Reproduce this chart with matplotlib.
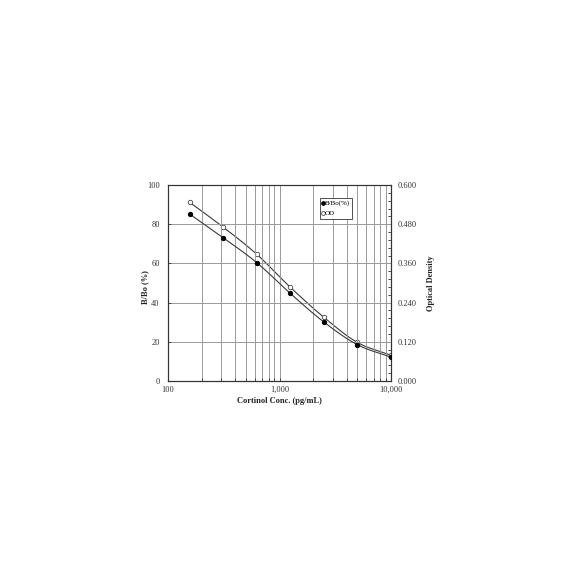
import matplotlib
matplotlib.use("Agg")
import matplotlib.pyplot as plt
import numpy as np
from matplotlib.ticker import FixedLocator, FuncFormatter, MultipleLocator

# Standard curve data
conc = [156.25, 312.5, 625, 1250, 2500, 5000, 10000]
b_b0 = [85.2, 73.1, 60.4, 44.7, 30.1, 18.5, 12.2]
od = [0.547, 0.471, 0.388, 0.287, 0.195, 0.118, 0.079]

x_ticks = [100, 1000, 10000]
x_tick_labels = ["100", "1,000", "10,000"]

plt.rcParams['font.family'] = ['Liberation Serif', 'DejaVu Serif']


def smooth(xs, ys, n=30):
    """Catmull-Rom curve through the points, in log-x space"""
    lx = np.log10(np.asarray(xs, dtype=float))
    y = np.asarray(ys, dtype=float)
    px = np.concatenate([[2 * lx[0] - lx[1]], lx, [2 * lx[-1] - lx[-2]]])
    py = np.concatenate([[2 * y[0] - y[1]], y, [2 * y[-1] - y[-2]]])
    out_x, out_y = [], []
    t = np.linspace(0, 1, n)
    for i in range(1, len(px) - 2):
        for arr, out in ((px, out_x), (py, out_y)):
            p0, p1, p2, p3 = arr[i - 1], arr[i], arr[i + 1], arr[i + 2]
            out.extend(0.5 * ((2 * p1) + (-p0 + p2) * t
                              + (2 * p0 - 5 * p1 + 4 * p2 - p3) * t ** 2
                              + (-p0 + 3 * p1 - 3 * p2 + p3) * t ** 3))
    return 10 ** np.array(out_x), np.array(out_y)


fig = plt.figure(figsize=(5.84, 5.84), dpi=100)
ax = fig.add_axes([0.2877, 0.3476, 0.3818, 0.3356])
ax2 = ax.twinx()

ax.set_xscale('log')
ax.set_xlim(100, 10000)
ax.set_ylim(0, 100)
ax2.set_ylim(0, 0.6)

# grid
ax.grid(True, which='major', axis='both', color='#9a9a9a', lw=0.7)
ax.grid(True, which='minor', axis='x', color='#9a9a9a', lw=0.7)

sx, sy = smooth(conc, b_b0)
ax.plot(sx, sy, color='#3a3a3a', lw=0.8, zorder=3)
ax.plot(conc, b_b0, 'o', color='black', ms=2.8, zorder=4, label='B/Bo(%)')

ox, oy = smooth(conc, od)
ax2.plot(ox, oy, color='#3a3a3a', lw=0.8, zorder=3)
ax2.plot(conc, od, 'o', mfc='white', mec='#444444', mew=0.6, ms=3.2, zorder=4,
         label='OD')

ax.xaxis.set_major_locator(FixedLocator(x_ticks))
ax.xaxis.set_major_formatter(FuncFormatter(lambda v, p: x_tick_labels[x_ticks.index(v)] if v in x_ticks else ""))
ax.xaxis.set_minor_formatter(FuncFormatter(lambda v, p: ""))
ax.yaxis.set_major_locator(MultipleLocator(20))
ax2.yaxis.set_major_locator(MultipleLocator(0.12))
ax2.yaxis.set_minor_locator(MultipleLocator(0.024))
ax2.yaxis.set_major_formatter(FuncFormatter(lambda v, p: "%.3f" % v))

for a in (ax, ax2):
    a.tick_params(which='both', direction='in', labelsize=6, colors='#333333',
                  length=2.5, width=0.6)
    for s in a.spines.values():
        s.set_color('#333333')
        s.set_linewidth(0.8)
ax.tick_params(axis='y', pad=6)
ax2.tick_params(axis='y', pad=5)
ax.tick_params(axis='x', which='minor', length=2)
ax.set_zorder(ax2.get_zorder() + 1)
ax.patch.set_visible(False)

ax.set_xlabel('Cortinol Conc. (pg/mL)', fontsize=6, fontweight='bold',
              labelpad=2, color='#222222')
ax.set_ylabel('B/Bo (%)', fontsize=6, fontweight='bold', color='#222222')
ax.yaxis.set_label_coords(-0.085, 0.48)
ax2.set_ylabel('Optical Density', fontsize=6, fontweight='bold', color='#222222')
ax2.yaxis.set_label_coords(1.16, 0.5)

h1, l1 = ax.get_legend_handles_labels()
h2, l2 = ax2.get_legend_handles_labels()
leg = ax.legend(h1 + h2, l1 + l2, loc='upper left', bbox_to_anchor=(0.68, 0.935),
                fontsize=5, frameon=True, fancybox=False, handlelength=0.2,
                handletextpad=0.15, borderpad=0.35, labelspacing=0.55,
                borderaxespad=0, markerscale=0.85,
                framealpha=1, edgecolor='#333333')
leg.get_frame().set_linewidth(0.6)

fig.savefig('out.png', dpi=100, facecolor='white')
